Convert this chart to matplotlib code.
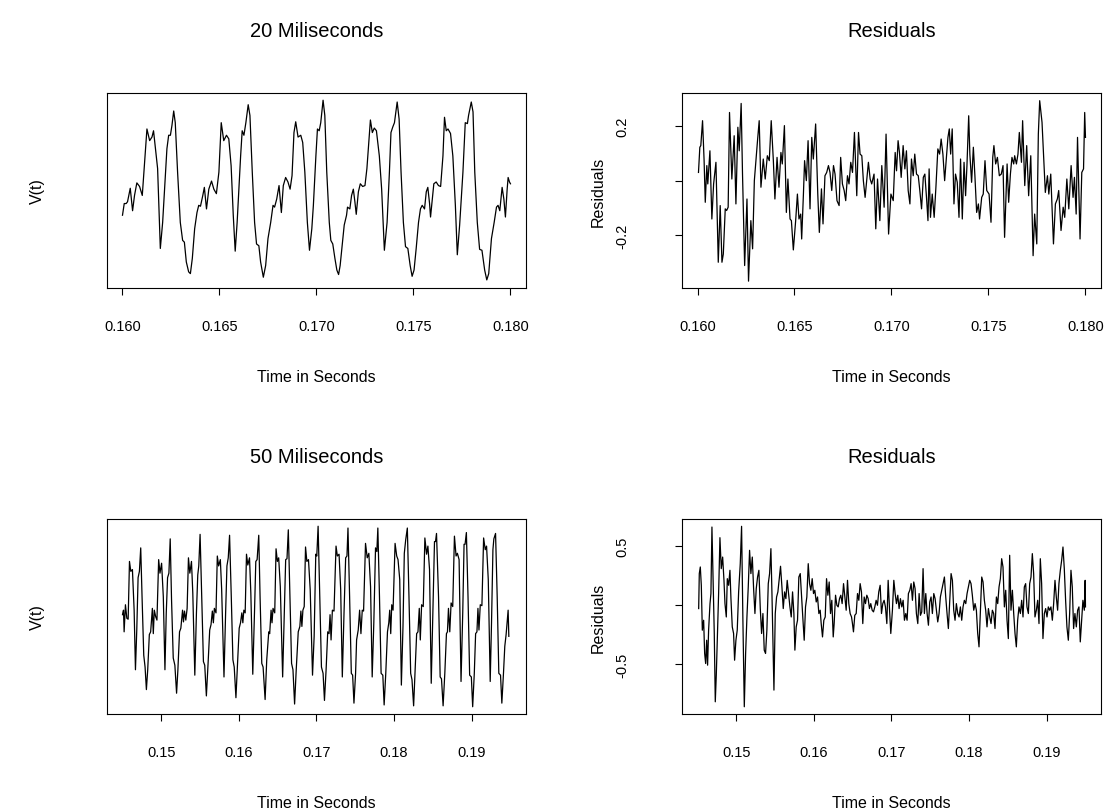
import matplotlib
matplotlib.use("Agg")
import matplotlib.pyplot as plt

plt.rcParams['font.family'] = ['Liberation Sans', 'DejaVu Sans']

# --- 20 ms window of the voltage signal ---
t20 = [0.16000, 0.16009, 0.16019, 0.16026, 0.16040, 0.16052, 0.16062, 0.16074, 0.16088, 0.16102,
       0.16114, 0.16126, 0.16140, 0.16152, 0.16160, 0.16169, 0.16181, 0.16195, 0.16207, 0.16217,
       0.16229, 0.16238, 0.16247, 0.16255, 0.16264, 0.16272, 0.16284, 0.16298, 0.16310, 0.16319,
       0.16329, 0.16341, 0.16350, 0.16360, 0.16372, 0.16384, 0.16393, 0.16402, 0.16414, 0.16422,
       0.16433, 0.16445, 0.16459, 0.16471, 0.16484, 0.16497, 0.16509, 0.16522, 0.16536, 0.16548,
       0.16560, 0.16571, 0.16581, 0.16591, 0.16609, 0.16617, 0.16626, 0.16636, 0.16648, 0.16657,
       0.16669, 0.16681, 0.16691, 0.16703, 0.16712, 0.16726, 0.16738, 0.16750, 0.16764, 0.16776,
       0.16784, 0.16795, 0.16807, 0.16819, 0.16829, 0.16841, 0.16853, 0.16864, 0.16874, 0.16884,
       0.16893, 0.16905, 0.16919, 0.16929, 0.16940, 0.16953, 0.16964, 0.16976, 0.16984, 0.16997,
       0.17005, 0.17014, 0.17022, 0.17034, 0.17043, 0.17053, 0.17066, 0.17074, 0.17084, 0.17095,
       0.17105, 0.17114, 0.17122, 0.17134, 0.17143, 0.17155, 0.17160, 0.17172, 0.17181, 0.17190,
       0.17198, 0.17205, 0.17216, 0.17226, 0.17238, 0.17250, 0.17260, 0.17278, 0.17288, 0.17298,
       0.17309, 0.17324, 0.17336, 0.17350, 0.17364, 0.17376, 0.17384, 0.17393, 0.17402, 0.17416,
       0.17426, 0.17436, 0.17448, 0.17459, 0.17471, 0.17483, 0.17493, 0.17503, 0.17514, 0.17526,
       0.17536, 0.17545, 0.17557, 0.17566, 0.17574, 0.17583, 0.17588, 0.17597, 0.17605, 0.17617,
       0.17629, 0.17640, 0.17652, 0.17660, 0.17669, 0.17678, 0.17691, 0.17703, 0.17716, 0.17726,
       0.17738, 0.17755, 0.17767, 0.17778, 0.17784, 0.17798, 0.17807, 0.17816, 0.17829, 0.17841,
       0.17853, 0.17867, 0.17878, 0.17888, 0.17902, 0.17916, 0.17928, 0.17936, 0.17945, 0.17957,
       0.17966, 0.17974, 0.17983, 0.17988, 0.17995, 0.18000]
v20 = [-0.22, -0.09, -0.09, -0.07, 0.08, -0.17, 0.00, 0.14, 0.10, 0.00,
       0.37, 0.74, 0.61, 0.65, 0.72, 0.54, 0.30, -0.59, -0.30, 0.07,
       0.52, 0.67, 0.67, 0.78, 0.94, 0.81, 0.26, -0.30, -0.50, -0.52,
       -0.74, -0.85, -0.87, -0.70, -0.37, -0.19, -0.11, -0.12, 0.00, 0.09,
       -0.15, 0.07, 0.16, 0.07, 0.02, 0.26, 0.81, 0.61, 0.67, 0.63,
       0.33, -0.22, -0.62, -0.30, 0.44, 0.72, 0.67, 0.81, 1.01, 0.89,
       0.26, -0.30, -0.54, -0.56, -0.74, -0.91, -0.78, -0.48, -0.30, -0.11,
       -0.13, -0.04, 0.11, -0.19, 0.11, 0.20, 0.15, 0.07, 0.22, 0.70,
       0.82, 0.65, 0.67, 0.59, 0.26, -0.30, -0.61, -0.37, -0.11, 0.44,
       0.74, 0.72, 0.81, 1.06, 0.89, 0.26, -0.30, -0.50, -0.54, -0.70,
       -0.83, -0.88, -0.78, -0.52, -0.33, -0.22, -0.13, -0.15, 0.00, 0.07,
       -0.07, -0.21, 0.04, 0.13, 0.10, 0.11, 0.30, 0.84, 0.70, 0.75,
       0.72, 0.44, 0.07, -0.61, -0.30, 0.26, 0.70, 0.76, 0.81, 1.04,
       0.85, 0.26, -0.30, -0.57, -0.59, -0.78, -0.90, -0.83, -0.59, -0.30,
       -0.15, -0.11, -0.15, 0.04, 0.09, -0.09, -0.24, -0.04, 0.13, 0.15,
       0.11, 0.10, 0.44, 0.87, 0.72, 0.74, 0.69, 0.44, -0.11, -0.66,
       -0.33, 0.26, 0.81, 0.80, 0.89, 1.04, 0.93, 0.26, -0.30, -0.60,
       -0.61, -0.83, -0.94, -0.87, -0.48, -0.30, -0.13, -0.11, -0.17, 0.09,
       -0.04, -0.24, 0.07, 0.20, 0.15, 0.13]

# --- residuals over the 20 ms window ---
tr20 = [0.16005, 0.16012, 0.16017, 0.16026, 0.16034, 0.16040, 0.16048, 0.16053, 0.16064, 0.16074,
        0.16083, 0.16095, 0.16107, 0.16117, 0.16126, 0.16133, 0.16143, 0.16150, 0.16158, 0.16165,
        0.16177, 0.16189, 0.16198, 0.16208, 0.16215, 0.16225, 0.16232, 0.16243, 0.16255, 0.16263,
        0.16275, 0.16284, 0.16293, 0.16301, 0.16310, 0.16318, 0.16327, 0.16339, 0.16349, 0.16360,
        0.16370, 0.16380, 0.16391, 0.16399, 0.16410, 0.16420, 0.16430, 0.16437, 0.16448, 0.16458,
        0.16466, 0.16477, 0.16484, 0.16494, 0.16506, 0.16515, 0.16523, 0.16532, 0.16537, 0.16546,
        0.16552, 0.16561, 0.16570, 0.16580, 0.16589, 0.16597, 0.16609, 0.16620, 0.16628, 0.16639,
        0.16647, 0.16657, 0.16666, 0.16675, 0.16683, 0.16692, 0.16701, 0.16709, 0.16719, 0.16730,
        0.16738, 0.16747, 0.16756, 0.16764, 0.16773, 0.16781, 0.16790, 0.16799, 0.16809, 0.16821,
        0.16830, 0.16838, 0.16847, 0.16855, 0.16864, 0.16873, 0.16881, 0.16890, 0.16898, 0.16910,
        0.16919, 0.16928, 0.16940, 0.16950, 0.16962, 0.16972, 0.16985, 0.16997, 0.17009, 0.17019,
        0.17026, 0.17034, 0.17041, 0.17050, 0.17060, 0.17069, 0.17077, 0.17086, 0.17095, 0.17103,
        0.17112, 0.17120, 0.17129, 0.17138, 0.17146, 0.17155, 0.17164, 0.17172, 0.17181, 0.17188,
        0.17194, 0.17201, 0.17210, 0.17220, 0.17229, 0.17239, 0.17248, 0.17256, 0.17265, 0.17274,
        0.17282, 0.17291, 0.17298, 0.17305, 0.17313, 0.17322, 0.17330, 0.17339, 0.17348, 0.17356,
        0.17365, 0.17374, 0.17382, 0.17389, 0.17398, 0.17404, 0.17413, 0.17422, 0.17430, 0.17439,
        0.17448, 0.17454, 0.17465, 0.17473, 0.17482, 0.17491, 0.17503, 0.17513, 0.17522, 0.17528,
        0.17537, 0.17546, 0.17556, 0.17566, 0.17575, 0.17583, 0.17596, 0.17604, 0.17613, 0.17621,
        0.17630, 0.17635, 0.17644, 0.17652, 0.17659, 0.17670, 0.17676, 0.17687, 0.17697, 0.17707,
        0.17718, 0.17730, 0.17738, 0.17749, 0.17757, 0.17764, 0.17776, 0.17783, 0.17793, 0.17804,
        0.17811, 0.17821, 0.17835, 0.17845, 0.17855, 0.17862, 0.17874, 0.17885, 0.17893, 0.17904,
        0.17914, 0.17926, 0.17936, 0.17943, 0.17952, 0.17959, 0.17972, 0.17981, 0.17990, 0.17996,
        0.18000]
r20 = [0.030, 0.122, 0.128, 0.219, 0.073, -0.079, 0.055, -0.012, 0.109, -0.140,
       -0.012, 0.067, -0.298, -0.091, -0.298, -0.268, -0.103, -0.109, -0.097, 0.249,
       0.006, 0.164, -0.085, 0.195, 0.109, 0.282, 0.024, -0.310, -0.067, -0.367,
       -0.146, -0.249, 0.000, 0.073, 0.152, 0.219, -0.024, 0.079, 0.006, 0.091,
       0.073, 0.219, 0.073, -0.067, 0.085, -0.024, 0.103, 0.061, 0.201, -0.116,
       0.006, -0.140, -0.146, -0.253, -0.146, -0.049, -0.140, -0.122, -0.213, -0.049,
       0.073, 0.000, 0.146, -0.103, 0.158, 0.079, 0.207, -0.049, -0.189, -0.030,
       -0.158, 0.018, 0.030, 0.055, 0.030, -0.036, 0.055, 0.024, -0.073, -0.091,
       0.085, -0.012, -0.036, -0.073, 0.018, -0.012, 0.067, 0.030, 0.176, -0.055,
       0.176, 0.097, 0.091, 0.000, -0.061, 0.006, 0.067, 0.006, -0.012, 0.024,
       -0.176, 0.006, -0.146, 0.055, -0.097, 0.170, -0.195, -0.049, -0.073, 0.103,
       0.036, 0.146, 0.103, 0.012, 0.128, 0.043, 0.109, -0.036, -0.085, 0.079,
       0.018, 0.097, 0.024, 0.018, -0.036, -0.103, 0.012, 0.024, -0.067, -0.146,
       0.043, -0.134, -0.049, -0.134, -0.024, 0.116, 0.097, 0.152, 0.097, 0.000,
       0.073, 0.158, 0.189, 0.097, 0.189, -0.085, 0.024, -0.006, -0.134, 0.079,
       -0.140, 0.067, -0.055, 0.055, 0.237, 0.097, -0.006, 0.122, 0.018, -0.116,
       -0.085, -0.140, -0.061, -0.049, 0.073, -0.036, -0.049, -0.152, 0.085, 0.128,
       0.061, 0.085, 0.018, 0.024, 0.055, -0.207, 0.061, -0.079, 0.024, 0.085,
       0.061, 0.091, 0.061, 0.097, 0.176, 0.067, 0.219, -0.018, 0.128, -0.055,
       0.091, -0.274, -0.122, -0.231, 0.170, 0.292, 0.213, 0.109, -0.043, 0.018,
       -0.049, 0.024, -0.231, -0.085, -0.067, -0.036, -0.182, -0.097, -0.134, 0.006,
       -0.103, 0.055, -0.061, 0.012, -0.122, 0.158, -0.213, 0.030, 0.043, 0.249,
       0.158]

# --- 50 ms window of the voltage signal ---
t50 = [0.14500, 0.14513, 0.14521, 0.14538, 0.14556, 0.14573, 0.14590, 0.14607, 0.14628, 0.14650,
       0.14667, 0.14684, 0.14701, 0.14718, 0.14735, 0.14752, 0.14774, 0.14791, 0.14808, 0.14825,
       0.14846, 0.14863, 0.14885, 0.14897, 0.14910, 0.14927, 0.14944, 0.14966, 0.14983, 0.15004,
       0.15026, 0.15047, 0.15064, 0.15081, 0.15098, 0.15115, 0.15132, 0.15154, 0.15175, 0.15197,
       0.15214, 0.15235, 0.15252, 0.15274, 0.15286, 0.15299, 0.15316, 0.15333, 0.15350, 0.15368,
       0.15389, 0.15406, 0.15432, 0.15453, 0.15470, 0.15483, 0.15500, 0.15521, 0.15543, 0.15560,
       0.15581, 0.15603, 0.15624, 0.15641, 0.15658, 0.15671, 0.15684, 0.15705, 0.15722, 0.15739,
       0.15761, 0.15778, 0.15808, 0.15829, 0.15846, 0.15863, 0.15880, 0.15902, 0.15923, 0.15940,
       0.15962, 0.15983, 0.16004, 0.16021, 0.16038, 0.16051, 0.16064, 0.16081, 0.16098, 0.16115,
       0.16137, 0.16154, 0.16179, 0.16201, 0.16218, 0.16235, 0.16256, 0.16273, 0.16295, 0.16312,
       0.16338, 0.16359, 0.16385, 0.16397, 0.16415, 0.16427, 0.16440, 0.16462, 0.16479, 0.16496,
       0.16513, 0.16534, 0.16564, 0.16585, 0.16603, 0.16620, 0.16637, 0.16658, 0.16679, 0.16697,
       0.16718, 0.16739, 0.16765, 0.16786, 0.16799, 0.16812, 0.16825, 0.16842, 0.16859, 0.16876,
       0.16897, 0.16919, 0.16949, 0.16970, 0.16991, 0.17004, 0.17021, 0.17043, 0.17064, 0.17085,
       0.17103, 0.17124, 0.17145, 0.17162, 0.17175, 0.17188, 0.17205, 0.17226, 0.17252, 0.17269,
       0.17291, 0.17312, 0.17333, 0.17355, 0.17376, 0.17393, 0.17406, 0.17427, 0.17449, 0.17466,
       0.17483, 0.17504, 0.17517, 0.17538, 0.17556, 0.17573, 0.17590, 0.17607, 0.17632, 0.17654,
       0.17675, 0.17697, 0.17718, 0.17739, 0.17761, 0.17778, 0.17791, 0.17812, 0.17833, 0.17855,
       0.17872, 0.17893, 0.17915, 0.17932, 0.17944, 0.17957, 0.17970, 0.17987, 0.18013, 0.18034,
       0.18051, 0.18073, 0.18094, 0.18115, 0.18132, 0.18150, 0.18171, 0.18192, 0.18214, 0.18231,
       0.18252, 0.18269, 0.18291, 0.18308, 0.18325, 0.18338, 0.18355, 0.18376, 0.18397, 0.18419,
       0.18436, 0.18457, 0.18479, 0.18500, 0.18521, 0.18534, 0.18547, 0.18573, 0.18594, 0.18611,
       0.18632, 0.18654, 0.18675, 0.18688, 0.18701, 0.18718, 0.18735, 0.18756, 0.18778, 0.18799,
       0.18816, 0.18838, 0.18863, 0.18885, 0.18902, 0.18915, 0.18932, 0.18953, 0.18974, 0.18996,
       0.19013, 0.19034, 0.19051, 0.19068, 0.19081, 0.19094, 0.19111, 0.19132, 0.19154, 0.19175,
       0.19192, 0.19214, 0.19239, 0.19256, 0.19274, 0.19286, 0.19308, 0.19329, 0.19350, 0.19372,
       0.19389, 0.19410, 0.19427, 0.19444, 0.19457, 0.19470, 0.19479]
v50 = [0.02, 0.07, -0.17, 0.13, -0.02, -0.03, 0.61, 0.50, 0.52, 0.07,
       -0.59, -0.15, 0.43, 0.50, 0.76, 0.22, -0.43, -0.56, -0.81, -0.59,
       -0.20, -0.17, 0.09, -0.19, 0.07, 0.00, -0.04, 0.63, 0.48, 0.59,
       0.22, -0.59, 0.04, 0.43, 0.48, 0.86, 0.19, -0.46, -0.54, -0.85,
       -0.59, -0.17, -0.13, 0.07, -0.06, 0.06, -0.04, 0.09, 0.65, 0.48,
       0.61, 0.26, -0.65, 0.04, 0.46, 0.56, 0.91, 0.22, -0.50, -0.54,
       -0.88, -0.52, -0.15, -0.09, 0.06, -0.07, 0.09, 0.04, 0.67, 0.56,
       0.63, 0.30, -0.67, 0.04, 0.56, 0.65, 0.90, 0.22, -0.48, -0.56,
       -0.90, -0.52, -0.13, -0.07, 0.04, -0.07, 0.07, 0.04, 0.69, 0.57,
       0.65, 0.26, -0.64, 0.04, 0.61, 0.63, 0.90, 0.22, -0.52, -0.56,
       -0.92, -0.48, -0.17, -0.19, 0.07, -0.07, 0.09, 0.04, 0.75, 0.61,
       0.65, 0.33, -0.67, 0.04, 0.63, 0.64, 0.96, 0.22, -0.52, -0.59,
       -0.97, -0.59, -0.17, -0.11, 0.06, -0.11, 0.07, 0.11, 0.77, 0.61,
       0.63, 0.30, -0.65, -0.22, 0.69, 0.67, 1.00, 0.22, -0.56, -0.63,
       -0.93, -0.59, -0.17, -0.19, 0.02, -0.26, 0.07, 0.06, 0.78, 0.67,
       0.69, 0.30, -0.67, 0.04, 0.65, 0.67, 0.98, 0.22, -0.63, -0.65,
       -0.96, -0.63, -0.26, -0.15, 0.07, -0.19, 0.07, 0.06, 0.81, 0.65,
       0.70, 0.33, -0.67, -0.07, 0.76, 0.72, 0.98, 0.22, -0.63, -0.65,
       -0.98, -0.63, -0.17, -0.07, 0.07, -0.19, 0.13, 0.07, 0.81, 0.67,
       0.63, 0.41, -0.76, -0.11, 0.70, 0.85, 0.98, 0.22, -0.63, -0.70,
       -0.99, -0.63, -0.19, -0.17, 0.09, -0.26, 0.13, 0.11, 0.87, 0.69,
       0.78, 0.52, -0.74, 0.04, 0.83, 0.83, 0.92, 0.22, -0.67, -0.69,
       -0.99, -0.63, -0.19, -0.17, 0.09, -0.17, 0.15, 0.11, 0.89, 0.67,
       0.70, 0.63, -0.72, 0.04, 0.80, 0.80, 0.93, 0.22, -0.65, -0.67,
       -1.00, -0.63, -0.19, -0.17, 0.09, -0.15, 0.13, 0.12, 0.87, 0.74,
       0.78, 0.41, -0.72, -0.07, 0.74, 0.86, 0.92, 0.22, -0.63, -0.65,
       -0.96, -0.63, -0.33, -0.20, -0.07, 0.07, -0.22]

# --- residuals over the 50 ms window ---
tr50 = [0.14515, 0.14523, 0.14536, 0.14549, 0.14562, 0.14579, 0.14592, 0.14605, 0.14618, 0.14630,
        0.14643, 0.14661, 0.14673, 0.14686, 0.14703, 0.14716, 0.14729, 0.14742, 0.14755, 0.14772,
        0.14789, 0.14806, 0.14824, 0.14841, 0.14854, 0.14871, 0.14884, 0.14901, 0.14918, 0.14931,
        0.14948, 0.14965, 0.14978, 0.14995, 0.15012, 0.15030, 0.15051, 0.15068, 0.15085, 0.15103,
        0.15120, 0.15137, 0.15154, 0.15171, 0.15188, 0.15206, 0.15223, 0.15240, 0.15257, 0.15274,
        0.15291, 0.15309, 0.15326, 0.15343, 0.15360, 0.15377, 0.15394, 0.15412, 0.15429, 0.15446,
        0.15459, 0.15472, 0.15485, 0.15502, 0.15519, 0.15536, 0.15553, 0.15570, 0.15588, 0.15605,
        0.15622, 0.15639, 0.15656, 0.15673, 0.15691, 0.15708, 0.15725, 0.15742, 0.15755, 0.15772,
        0.15789, 0.15806, 0.15824, 0.15841, 0.15858, 0.15875, 0.15892, 0.15909, 0.15927, 0.15944,
        0.15961, 0.15978, 0.15995, 0.16012, 0.16030, 0.16047, 0.16064, 0.16081, 0.16094, 0.16111,
        0.16128, 0.16146, 0.16163, 0.16180, 0.16197, 0.16214, 0.16231, 0.16249, 0.16261, 0.16279,
        0.16296, 0.16313, 0.16330, 0.16347, 0.16364, 0.16382, 0.16399, 0.16416, 0.16433, 0.16450,
        0.16467, 0.16485, 0.16497, 0.16510, 0.16527, 0.16545, 0.16562, 0.16579, 0.16596, 0.16613,
        0.16630, 0.16648, 0.16665, 0.16682, 0.16699, 0.16716, 0.16733, 0.16751, 0.16768, 0.16785,
        0.16802, 0.16819, 0.16836, 0.16854, 0.16871, 0.16888, 0.16905, 0.16922, 0.16940, 0.16957,
        0.16974, 0.16991, 0.17012, 0.17030, 0.17047, 0.17064, 0.17081, 0.17098, 0.17115, 0.17133,
        0.17150, 0.17167, 0.17184, 0.17201, 0.17218, 0.17236, 0.17253, 0.17270, 0.17287, 0.17304,
        0.17321, 0.17339, 0.17356, 0.17373, 0.17390, 0.17407, 0.17424, 0.17442, 0.17459, 0.17476,
        0.17493, 0.17510, 0.17527, 0.17545, 0.17562, 0.17579, 0.17596, 0.17613, 0.17630, 0.17648,
        0.17665, 0.17682, 0.17699, 0.17716, 0.17733, 0.17751, 0.17768, 0.17785, 0.17802, 0.17819,
        0.17836, 0.17854, 0.17871, 0.17888, 0.17905, 0.17922, 0.17939, 0.17957, 0.17974, 0.17991,
        0.18008, 0.18025, 0.18042, 0.18060, 0.18077, 0.18094, 0.18111, 0.18128, 0.18146, 0.18163,
        0.18180, 0.18197, 0.18214, 0.18231, 0.18249, 0.18266, 0.18283, 0.18300, 0.18317, 0.18334,
        0.18352, 0.18369, 0.18386, 0.18403, 0.18420, 0.18437, 0.18455, 0.18472, 0.18489, 0.18506,
        0.18523, 0.18540, 0.18558, 0.18575, 0.18592, 0.18609, 0.18626, 0.18643, 0.18661, 0.18678,
        0.18695, 0.18712, 0.18729, 0.18746, 0.18764, 0.18781, 0.18798, 0.18815, 0.18832, 0.18849,
        0.18867, 0.18884, 0.18901, 0.18918, 0.18935, 0.18952, 0.18970, 0.18987, 0.19004, 0.19021,
        0.19038, 0.19055, 0.19073, 0.19090, 0.19107, 0.19124, 0.19141, 0.19158, 0.19176, 0.19193,
        0.19210, 0.19227, 0.19244, 0.19261, 0.19279, 0.19296, 0.19313, 0.19330, 0.19347, 0.19364,
        0.19382, 0.19399, 0.19416, 0.19433, 0.19450, 0.19467, 0.19485, 0.19496, 0.19500]
r50 = [-0.028, 0.268, 0.324, 0.169, -0.211, -0.127, -0.408, -0.493, -0.296, -0.507,
       -0.211, 0.014, 0.099, 0.662, 0.127, -0.239, -0.817, -0.592, -0.296, 0.099,
       0.572, 0.310, 0.408, 0.211, 0.014, -0.099, 0.225, 0.169, 0.296, 0.056,
       -0.183, -0.239, -0.465, -0.296, -0.211, 0.113, 0.352, 0.668, -0.127, -0.859,
       -0.408, -0.099, 0.155, 0.465, 0.268, 0.408, 0.141, -0.070, 0.141, 0.239,
       0.296, -0.028, -0.239, -0.070, -0.380, -0.408, -0.211, 0.183, 0.268, 0.479,
       0.113, -0.296, -0.718, -0.070, 0.070, 0.113, 0.225, 0.330, 0.155, -0.028,
       0.113, 0.056, 0.211, 0.099, -0.014, -0.099, 0.113, -0.070, -0.380, -0.183,
       -0.127, 0.239, 0.268, 0.070, -0.113, -0.296, -0.014, 0.070, 0.352, 0.183,
       0.127, 0.225, 0.099, 0.127, 0.028, 0.070, -0.070, -0.042, -0.155, -0.268,
       -0.127, -0.099, 0.225, 0.085, 0.197, -0.070, 0.042, -0.268, -0.155, 0.085,
       0.000, -0.014, 0.056, 0.085, 0.014, 0.183, 0.070, -0.042, 0.211, 0.014,
       -0.070, -0.099, -0.155, -0.225, -0.085, -0.070, 0.099, 0.042, 0.183, 0.113,
       -0.155, 0.070, 0.014, 0.085, 0.056, -0.028, 0.014, -0.042, -0.056, -0.014,
       0.042, 0.000, 0.113, 0.169, -0.070, 0.014, 0.042, -0.014, -0.155, 0.211,
       -0.028, -0.239, -0.042, 0.211, 0.099, 0.014, 0.085, -0.028, 0.056, -0.014,
       0.042, -0.127, -0.070, -0.127, 0.099, 0.127, 0.183, 0.042, 0.197, 0.141,
       -0.070, -0.155, 0.099, -0.085, -0.056, 0.310, -0.070, 0.099, -0.070, -0.169,
       0.028, 0.070, -0.070, 0.099, 0.056, -0.042, -0.141, -0.070, 0.070, 0.127,
       0.183, 0.239, 0.070, -0.070, -0.197, 0.042, 0.268, 0.211, -0.042, -0.127,
       0.014, -0.070, -0.099, -0.014, -0.127, -0.014, 0.042, 0.014, 0.099, 0.155,
       0.211, 0.183, 0.085, -0.042, 0.014, -0.042, -0.239, -0.352, -0.042, 0.239,
       0.197, 0.042, -0.042, -0.183, -0.028, -0.099, -0.155, -0.042, -0.070, -0.197,
       0.070, 0.014, 0.155, 0.225, 0.394, 0.324, -0.014, 0.127, -0.127, -0.282,
       0.423, -0.042, 0.127, -0.070, -0.239, -0.352, -0.127, -0.014, -0.070, 0.042,
       -0.099, 0.155, 0.183, -0.014, -0.070, 0.183, 0.239, 0.437, 0.268, -0.099,
       -0.042, 0.042, -0.155, 0.394, 0.183, -0.282, -0.070, -0.028, -0.099, -0.014,
       -0.042, -0.014, -0.127, 0.014, 0.211, 0.070, -0.042, 0.183, 0.296, 0.380,
       0.493, 0.310, 0.042, -0.183, -0.296, -0.070, 0.296, 0.155, -0.197, -0.070,
       -0.183, -0.042, -0.014, -0.310, -0.127, 0.042, -0.042, 0.211, -0.014]

ticks20 = [0.160, 0.165, 0.170, 0.175, 0.180]
ticks20_labels = ["0.160", "0.165", "0.170", "0.175", "0.180"]
ticks50 = [0.15, 0.16, 0.17, 0.18, 0.19]
ticks50_labels = ["0.15", "0.16", "0.17", "0.18", "0.19"]
res20_ticks = [-0.2, 0.0, 0.2]
res20_labels = ["-0.2", "", "0.2"]
res50_ticks = [-0.5, 0.0, 0.5]
res50_labels = ["-0.5", "", "0.5"]


def style_axes(ax, title, ylabel, xticks, xlabels):
    ax.tick_params(direction='out', length=5, width=0.8, labelsize=10.5, pad=17)
    ax.set_xticks(xticks)
    ax.set_xticklabels(xlabels)
    for s in ax.spines.values():
        s.set_linewidth(0.8)
    ax.text(0.5, 1.32, title, transform=ax.transAxes, ha='center', va='center', fontsize=14.5)
    ax.set_xlabel("Time in Seconds", fontsize=11.5)
    ax.xaxis.set_label_coords(0.5, -0.455)
    ax.xaxis.label.set_va('center')
    ax.set_ylabel(ylabel, fontsize=11.5)
    ax.yaxis.label.set_va('center')


fig = plt.figure(figsize=(11.12, 8.12), dpi=100)
w, h = 0.3768, 0.2401
ax1 = fig.add_axes([0.0962, 0.6441, w, h])
ax2 = fig.add_axes([0.6133, 0.6441, w, h])
ax3 = fig.add_axes([0.0962, 0.1195, w, h])
ax4 = fig.add_axes([0.6133, 0.1195, w, h])

lw = 0.9
ax1.plot(t20, v20, color='black', lw=lw)
ax1.set_xlim(0.1592, 0.1808)
ax1.set_ylim(-1.03, 1.14)
style_axes(ax1, "20 Miliseconds", "V(t)", ticks20, ticks20_labels)
ax1.set_yticks([])
ax1.yaxis.set_label_coords(-0.165, 0.5)

ax2.plot(tr20, r20, color='black', lw=lw)
ax2.set_xlim(0.1592, 0.1808)
ax2.set_ylim(-0.392, 0.320)
style_axes(ax2, "Residuals", "Residuals", ticks20, ticks20_labels)
ax2.set_yticks(res20_ticks)
ax2.set_yticklabels(res20_labels, rotation=90, va='center')
ax2.tick_params(axis='y', pad=33)
ax2.yaxis.set_label_coords(-0.20, 0.5)

ax3.plot(t50, v50, color='black', lw=lw)
ax3.set_xlim(0.143, 0.197)
ax3.set_ylim(-1.08, 1.08)
style_axes(ax3, "50 Miliseconds", "V(t)", ticks50, ticks50_labels)
ax3.set_yticks([])
ax3.yaxis.set_label_coords(-0.165, 0.5)

ax4.plot(tr50, r50, color='black', lw=lw)
ax4.set_xlim(0.143, 0.197)
ax4.set_ylim(-0.92, 0.73)
style_axes(ax4, "Residuals", "Residuals", ticks50, ticks50_labels)
ax4.set_yticks(res50_ticks)
ax4.set_yticklabels(res50_labels, rotation=90, va='center')
ax4.tick_params(axis='y', pad=33)
ax4.yaxis.set_label_coords(-0.20, 0.5)

fig.savefig("out.png", dpi=100)
